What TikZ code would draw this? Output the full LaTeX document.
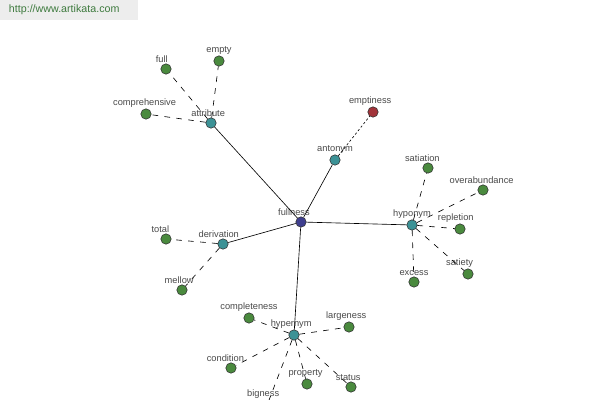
\documentclass[tikz,border=0pt]{standalone}
\usepackage{fontspec}
\setmainfont{Liberation Sans}
\usetikzlibrary{positioning}

\definecolor{leafgreen}{HTML}{4A8A3E}
\definecolor{relteal}{HTML}{3C9296}
\definecolor{rootblue}{HTML}{3E3E8E}
\definecolor{antired}{HTML}{A2343A}
\definecolor{labelgray}{HTML}{4A4A4A}
\definecolor{webgreen}{HTML}{3E7A3E}

\begin{document}
\begin{tikzpicture}[x=0.025cm,y=-0.025cm,
  every label/.style={text=labelgray,font=\fontsize{6.6}{7}\selectfont,inner sep=0.5pt},
  word/.style={circle,draw=black!80,line width=0.4pt,minimum size=7.4pt,inner sep=0pt,label distance=1.2pt},
  root/.style={word,fill=rootblue},
  rel/.style={word,fill=relteal},
  leaf/.style={word,fill=leafgreen},
  anti/.style={word,fill=antired},
  link/.style={line width=0.45pt},
  loose/.style={line width=0.45pt,dash pattern=on 4pt off 4.5pt},
  dots/.style={line width=0.45pt,dash pattern=on 1.6pt off 1.6pt}]

\clip (0,0) rectangle (600,400);
\fill[white] (0,0) rectangle (600,400);

% watermark
\fill[black!7] (0,0) rectangle (138,20);
\node[text=webgreen,font=\fontsize{7.6}{9}\selectfont,anchor=west] (site) at (4,10) {http://www.artikata.com};

% root and relations
\node[root,label={[xshift=-5pt]above:fullness}]  (fullness)   at (301,222) {};
\node[rel,label={[xshift=-2pt]above:attribute}]  (attribute)  at (211,123) {};
\node[rel,label=above:antonym]                   (antonym)    at (335,160) {};
\node[rel,label=above:hyponym]                   (hyponym)    at (412,225) {};
\node[rel,label={[xshift=-3pt]above:derivation}] (derivation) at (223,244) {};
\node[rel,label={[xshift=-2pt]above:hypernym}]   (hypernym)   at (294,335) {};

% leaves
\node[anti,label={[xshift=-2pt]above:emptiness}]      (emptiness)     at (373,112) {};
\node[leaf,label={[xshift=-3pt]above:full}]           (full)          at (166,69) {};
\node[leaf,label=above:empty]                         (empty)         at (219,61) {};
\node[leaf,label={[xshift=-1pt]above:comprehensive}]  (comprehensive) at (146,114) {};
\node[leaf,label={[xshift=-4pt]above:satiation}]      (satiation)     at (428,168) {};
\node[leaf,label={[xshift=-1pt]above:overabundance}]  (overabundance) at (483,190) {};
\node[leaf,label={[xshift=-3pt]above:repletion}]      (repletion)     at (460,229) {};
\node[leaf,label={[xshift=-6pt]above:satiety}]        (satiety)       at (468,274) {};
\node[leaf,label=above:excess]                        (excess)        at (414,282) {};
\node[leaf,label={[xshift=-4pt]above:total}]          (total)         at (166,239) {};
\node[leaf,label={[xshift=-2pt]above:mellow}]         (mellow)        at (182,290) {};
\node[leaf,label=above:completeness]                  (completeness)  at (249,318) {};
\node[leaf,label={[xshift=-2pt]above:largeness}]      (largeness)     at (349,327) {};
\node[leaf,label={[xshift=-4pt]above:condition}]      (condition)     at (231,368) {};
\node[leaf,label={[xshift=-1pt]above:property}]       (property)      at (307,384) {};
\node[leaf,label={[xshift=-2pt]above:status}]         (status)        at (351,387) {};
\node[leaf,label={[xshift=-2pt,yshift=2pt]above:bigness}] (bigness)   at (266,408) {};

\path[link] (fullness) edge (attribute)
                       edge (antonym)
                       edge (hyponym)
                       edge (derivation)
                       edge (hypernym);

\path[dots] (antonym) edge (emptiness);

\path[loose] (attribute) edge (full)
                         edge (empty)
                         edge (comprehensive)
      (hyponym) edge (satiation)
                edge (overabundance)
                edge (repletion)
                edge (satiety)
                edge (excess)
      (derivation) edge (total)
                   edge (mellow)
      (hypernym) edge (completeness)
                 edge (largeness)
                 edge (condition)
                 edge (property)
                 edge (status)
                 edge (bigness);

\end{tikzpicture}
\end{document}
